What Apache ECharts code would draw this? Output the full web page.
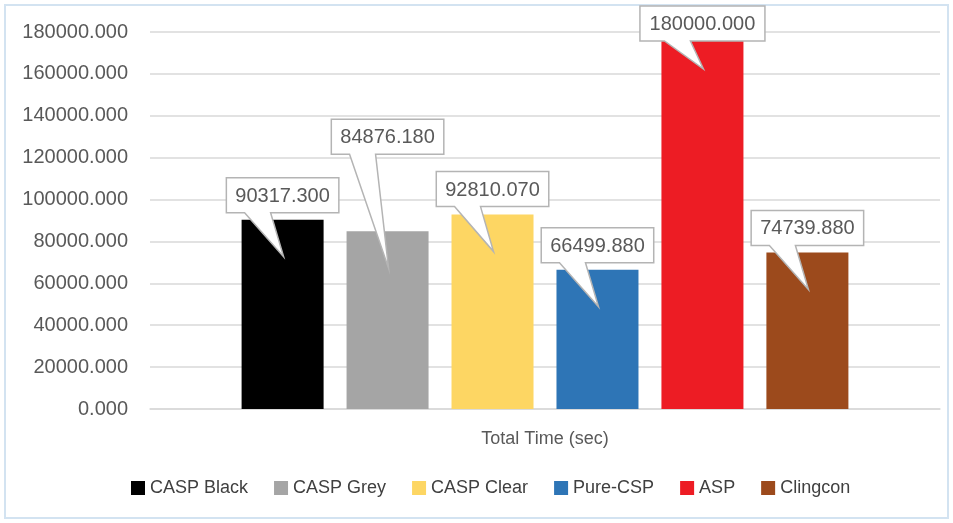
<!DOCTYPE html>
<html>
<head>
<meta charset="utf-8">
<script src="https://cdn.jsdelivr.net/npm/echarts@6/dist/echarts.min.js"></script>
<style>
  html, body { margin: 0; padding: 0; background: #fff; }
  #frame { position: absolute; left: 4px; top: 4px; width: 945px; height: 515px; box-sizing: border-box; border: 2px solid #d3e3f1; }
  #chart { position: absolute; left: 0; top: 0; width: 953px; height: 523px; }
</style>
</head>
<body>
<div id="frame"></div>
<div id="chart"></div>
<script>
// ---- data ----
const categories = ['Total Time (sec)'];
const seriesNames = ['CASP Black', 'CASP Grey', 'CASP Clear', 'Pure-CSP', 'ASP', 'Clingcon'];
const seriesValues = [90317.300, 84876.180, 92810.070, 66499.880, 180000.000, 74739.880];
const yTicks = { min: 0, max: 180000, interval: 20000 };

// ---- styles / layout ----
const colors = ['#000000', '#a5a5a5', '#fdd663', '#2e75b6', '#ed1c24', '#9c4a1c'];
const BAR_W = 82;
const BAR_GAP = 0.28;
const calloutLift = [-7, -77, -8, -7, 9, -7]; // box bottom relative to bar top (px)
const textColor = '#595959';
const FONT = '"Liberation Sans", Arial, sans-serif';

const chart = echarts.init(document.getElementById('chart'));

const barSeries = seriesNames.map((name, i) => ({
  name: name,
  type: 'bar',
  data: [seriesValues[i]],
  barWidth: BAR_W,
  barGap: (BAR_GAP * 100) + '%',
  itemStyle: { color: colors[i] },
  z: 2
}));

const calloutSeries = {
  type: 'custom',
  name: 'callouts',
  z: 5,
  silent: true,
  data: seriesValues.map(v => [0, v]),
  encode: { x: 0, y: 1 },
  renderItem: function (params, api) {
    const i = params.dataIndex;
    const v = api.value(1);
    const base = api.coord([api.value(0), v]);
    const n = seriesValues.length;
    const cx = base[0] + (i - (n - 1) / 2) * BAR_W * (1 + BAR_GAP);
    const top = base[1];
    const label = v.toFixed(3);
    const halfW = label.length * 12.5 / 2;
    const boxB = top + calloutLift[i];
    const boxT = boxB - 35;
    const tipY = top + 37;
    const pts = [
      [cx - halfW, boxT], [cx + halfW, boxT], [cx + halfW, boxB],
      [cx - 12, boxB], [cx + 1, tipY], [cx - 38, boxB], [cx - halfW, boxB]
    ];
    return {
      type: 'group',
      children: [
        { type: 'polygon', shape: { points: pts }, style: { fill: '#ffffff', stroke: '#b4b4b4', lineWidth: 1.5 } },
        { type: 'text', x: cx, y: (boxT + boxB) / 2 + 1,
          style: { text: label, align: 'center', verticalAlign: 'middle', fill: textColor, fontSize: 20, fontFamily: FONT } }
      ]
    };
  }
};

chart.setOption({
  animation: false,
  textStyle: { fontFamily: FONT },
  color: colors,
  grid: { left: 150, right: 13, top: 32, bottom: 114 },
  legend: {
    data: seriesNames,
    bottom: 21,
    left: 126,
    icon: 'rect',
    itemWidth: 14,
    itemHeight: 14,
    itemGap: 26,
    textStyle: { fontSize: 18, color: '#404040', fontFamily: FONT }
  },
  xAxis: {
    type: 'category',
    data: categories,
    axisTick: { show: false },
    axisLine: { lineStyle: { color: '#d9d9d9', width: 1.5 } },
    axisLabel: { fontSize: 18, color: textColor, margin: 21 }
  },
  yAxis: {
    type: 'value',
    min: yTicks.min,
    max: yTicks.max,
    interval: yTicks.interval,
    axisLine: { show: false },
    axisTick: { show: false },
    splitLine: { lineStyle: { color: '#d9d9d9', width: 1.5 } },
    axisLabel: { fontSize: 20, color: textColor, margin: 22, formatter: v => v.toFixed(3) }
  },
  series: barSeries.concat([calloutSeries])
});
</script>
</body>
</html>
